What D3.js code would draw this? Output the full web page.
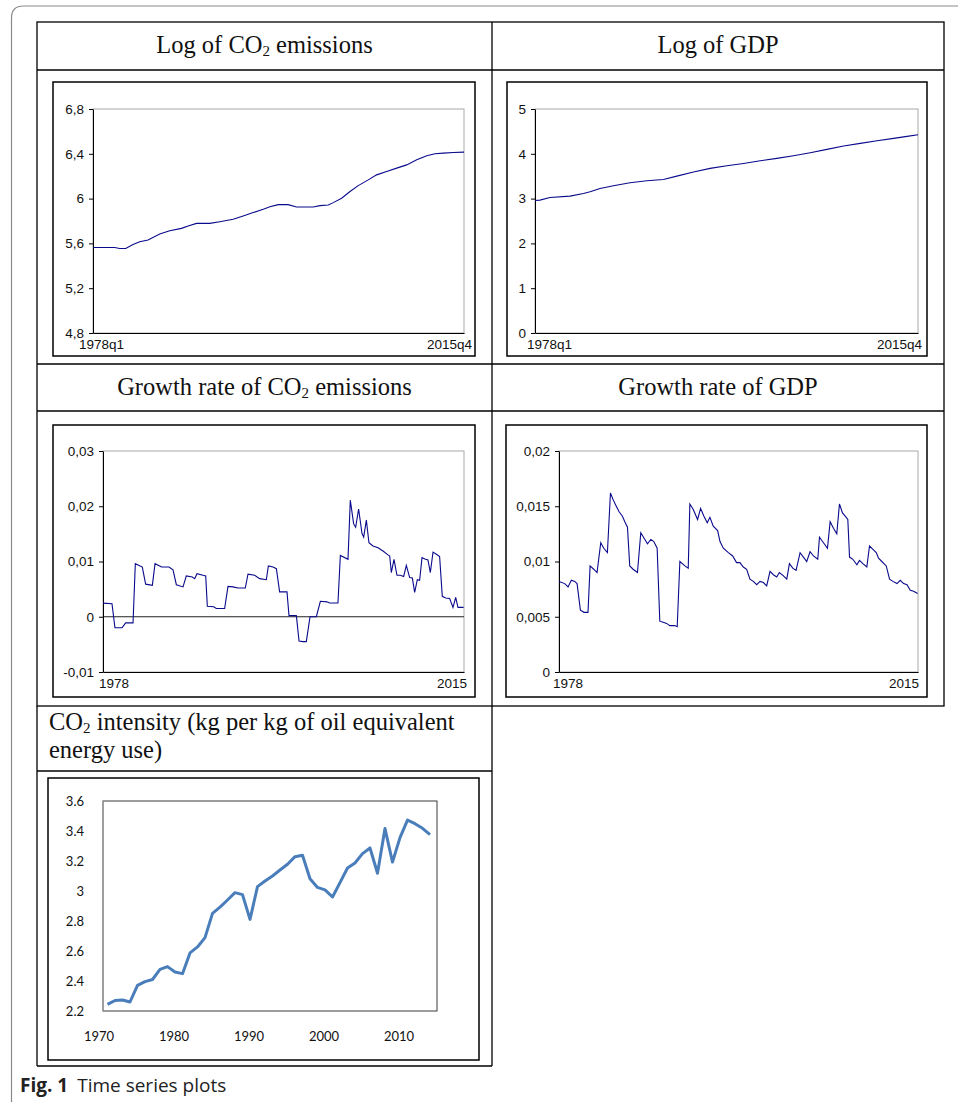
<!DOCTYPE html>
<html>
<head>
<meta charset="utf-8">
<script src="https://cdn.jsdelivr.net/npm/d3@7"></script>
<style>
  body{margin:0;background:#fff;}
  svg{display:block;}
</style>
</head>
<body>
<svg id="fig" width="958" height="1102"></svg>
<script>
// ---- data ----
// log of CO2 emissions (quarterly, 1978q1 - 2015q4), break points
var co2LogT=[1978.0,1980.21,1980.72,1981.33,1982.07,1982.75,1983.6,1984.79,1985.81,1987.0,1987.68,1988.53,1989.88,1990.9,1992.26,1993.28,1994.3,1995.32,1996.0,1996.85,1997.86,1998.71,2000.41,2001.09,2001.94,2002.45,2003.3,2004.15,2004.99,2006.01,2006.86,2007.88,2008.9,2009.92,2010.94,2011.96,2012.8,2013.65,2014.67,2015.75];
var co2LogV=[5.564,5.564,5.555,5.555,5.591,5.615,5.63,5.684,5.713,5.734,5.755,5.779,5.779,5.794,5.815,5.845,5.875,5.904,5.928,5.946,5.946,5.925,5.925,5.937,5.943,5.964,6.003,6.063,6.116,6.167,6.212,6.242,6.272,6.301,6.346,6.382,6.4,6.406,6.412,6.415];

// log of GDP
var gdpLogT=[1978.0,1978.49,1979.48,1981.45,1982.77,1983.43,1984.41,1985.73,1987.37,1989.02,1990.66,1991.98,1993.62,1995.26,1996.91,1998.55,2000.2,2001.84,2003.48,2005.13,2006.77,2008.42,2010.06,2011.71,2013.35,2014.67,2015.75];
var gdpLogV=[2.958,2.966,3.025,3.055,3.115,3.152,3.227,3.286,3.353,3.398,3.428,3.502,3.592,3.674,3.733,3.785,3.845,3.897,3.957,4.024,4.098,4.173,4.232,4.292,4.344,4.389,4.426];

// growth rate of CO2 emissions
var co2GrT=[1978.00,1978.94,1979.25,1979.99,1980.37,1981.14,1981.38,1982.11,1982.46,1983.16,
  1983.44,1984.13,1984.90,1985.32,1985.67,1986.37,1986.71,1987.34,1987.59,1987.83,
  1988.46,1988.74,1988.91,1989.57,1989.85,1990.72,1991.07,1991.59,1992.12,1992.88,
  1993.16,1993.86,1994.38,1995.08,1995.29,1995.78,1996.13,1996.47,1997.24,1997.45,
  1998.22,1998.50,1998.91,1999.26,1999.65,2000.31,2000.73,2001.42,2001.70,2002.57,
  2002.82,2003.62,2003.86,2004.21,2004.42,2004.73,2005.08,2005.26,2005.54,2005.81,
  2006.23,2006.76,2007.28,2007.80,2007.98,2008.15,2008.43,2008.74,2009.09,2009.44,
  2009.72,2010.07,2010.35,2010.59,2010.87,2011.11,2011.36,2011.71,2011.98,2012.23,
  2012.51,2012.86,2013.20,2013.48,2013.83,2014.25,2014.60,2014.88,2015.12,2015.71];
var co2GrV=[0.00247,0.00235,-0.0020,-0.0020,-0.0011,-0.0011,0.0096,0.0090,0.0059,0.0057,
  0.0096,0.0090,0.0090,0.0085,0.0058,0.0054,0.0074,0.0072,0.0069,0.0078,
  0.0075,0.0074,0.0019,0.0018,0.0015,0.0015,0.0055,0.0054,0.0052,0.0052,
  0.0077,0.0075,0.0069,0.0067,0.0092,0.0090,0.0087,0.0045,0.0045,0.0002,
  0.0002,-0.0044,-0.0045,-0.0045,0.0,0.0,0.0028,0.0027,0.0025,0.0025,
  0.0111,0.0104,0.0211,0.0168,0.0162,0.0195,0.0151,0.0144,0.0175,0.0134,
  0.0128,0.0125,0.0119,0.0112,0.0110,0.0080,0.0104,0.0075,0.0075,0.0073,
  0.0093,0.0071,0.0070,0.0044,0.0067,0.0066,0.0107,0.0104,0.0103,0.0080,
  0.0117,0.0113,0.0109,0.0037,0.0034,0.0033,0.0017,0.0035,0.0017,0.0017];

// growth rate of GDP
var gdpGrT=[1978.00,1978.60,1978.95,1979.30,1979.65,1979.90,1980.25,1980.63,1981.05,1981.27,
  1981.65,1982.00,1982.39,1982.71,1983.09,1983.41,1983.69,1983.97,1984.32,1984.67,
  1984.92,1985.20,1985.44,1985.79,1986.25,1986.60,1986.95,1987.30,1987.66,1987.97,
  1988.32,1988.60,1988.96,1989.31,1989.66,1990.18,1990.43,1990.71,1991.24,1991.59,
  1991.76,1992.12,1992.57,1992.89,1993.24,1993.59,1993.87,1994.22,1994.68,1994.93,
  1995.28,1995.81,1996.26,1996.67,1997.03,1997.38,1997.73,1998.08,1998.44,1998.79,
  1999.14,1999.49,1999.84,2000.19,2000.54,2000.89,2001.17,2001.60,2001.95,2002.23,
  2002.58,2002.93,2003.35,2003.70,2004.05,2004.40,2004.76,2005.21,2005.39,2005.81,
  2006.23,2006.51,2006.86,2007.21,2007.49,2007.81,2008.09,2008.37,2008.55,2008.90,
  2009.32,2009.60,2009.95,2010.37,2010.65,2011.01,2011.36,2011.60,2011.95,2012.41,
  2012.76,2013.11,2013.54,2013.88,2014.24,2014.59,2014.94,2015.29,2015.71];
var gdpGrV=[0.0082,0.0080,0.0077,0.0083,0.0082,0.0080,0.0056,0.0054,0.0054,0.0096,
  0.0093,0.0090,0.0117,0.0112,0.0108,0.0162,0.0156,0.0151,0.0145,0.0141,
  0.0136,0.0131,0.0096,0.0093,0.0090,0.0126,0.0121,0.0116,0.0120,0.0118,
  0.0112,0.0046,0.0045,0.0044,0.0042,0.0042,0.0041,0.0100,0.0096,0.0094,
  0.0152,0.0147,0.0138,0.0148,0.0141,0.0135,0.0140,0.0132,0.0128,0.0118,
  0.0112,0.0108,0.0105,0.0099,0.0099,0.0095,0.0093,0.0084,0.0082,0.0079,
  0.0082,0.0081,0.0078,0.0091,0.0088,0.0086,0.0090,0.0087,0.0084,0.0098,
  0.0094,0.0092,0.0108,0.0104,0.0100,0.0109,0.0105,0.0102,0.0122,0.0117,
  0.0112,0.0136,0.0130,0.0125,0.0152,0.0144,0.0141,0.0138,0.0104,0.0102,
  0.0097,0.0101,0.0098,0.0095,0.0114,0.0111,0.0108,0.0103,0.0100,0.0096,
  0.0084,0.0082,0.0080,0.0083,0.0080,0.0079,0.0074,0.0073,0.0071];

// CO2 intensity, annual 1971-2014
var intYears=d3.range(1971,2015);
var intV=[2.244,2.27,2.273,2.26,2.371,2.396,2.41,2.478,2.496,2.46,
  2.449,2.587,2.627,2.689,2.851,2.893,2.94,2.989,2.976,2.811,
  3.029,3.067,3.1,3.14,3.178,3.229,3.238,3.082,3.024,3.007,
  2.96,3.056,3.153,3.187,3.249,3.287,3.118,3.416,3.193,3.356,
  3.473,3.449,3.418,3.376];

// tick values
var co2LogTicks=[4.8,5.2,5.6,6,6.4,6.8];
var gdpLogTicks=[0,1,2,3,4,5];
var co2GrTicks=[-0.01,0,0.01,0.02,0.03];
var gdpGrTicks=[0,0.005,0.01,0.015,0.02];
var intTicks=[2.2,2.4,2.6,2.8,3,3.2,3.4,3.6];
var intYearTicks=[1970,1980,1990,2000,2010];

var svg=d3.select('#fig');
var comma=d3.formatLocale({decimal:',',thousands:'.',grouping:[3],currency:['',''],minus:'-'}).format('~g');

// outer frame of the figure
svg.append('path')
  .attr('d','M11.5,1102 L11.5,18 Q11.5,6 23.5,6 L958,6')
  .attr('fill','none').attr('stroke','#8a8a8a').attr('stroke-width',1.2);

// table grid
var grid=svg.append('g').attr('stroke','#000').attr('stroke-width',1.3).attr('fill','none');
grid.append('rect').attr('x',37).attr('y',22).attr('width',907).attr('height',684);
[70,364,411].forEach(function(y){
  grid.append('line').attr('x1',37).attr('x2',944).attr('y1',y).attr('y2',y);
});
grid.append('line').attr('x1',492).attr('x2',492).attr('y1',22).attr('y2',1066);
grid.append('line').attr('x1',37).attr('x2',37).attr('y1',706).attr('y2',1066);
grid.append('line').attr('x1',37).attr('x2',492).attr('y1',1066).attr('y2',1066);
grid.append('line').attr('x1',37).attr('x2',492).attr('y1',771).attr('y2',771);

// cell titles
function title(x,y,anchor,pre,sub,post){
  var t=svg.append('text').attr('x',x).attr('y',y).attr('text-anchor',anchor)
    .style('font-family','"Liberation Serif","Times New Roman",serif')
    .style('font-size','24.5px').attr('fill','#111');
  t.append('tspan').text(pre);
  if(sub){
    t.append('tspan').attr('dy',3).style('font-size','15px').text(sub);
    t.append('tspan').attr('dy',-3).text(post);
  }
  return t;
}
title(264.5,53,'middle','Log of CO','2',' emissions');
title(718,53,'middle','Log of GDP');
title(264.5,395,'middle','Growth rate of CO','2',' emissions');
title(718,395,'middle','Growth rate of GDP');
title(49,730,'start','CO','2',' intensity (kg per kg of oil equivalent');
title(49,758,'start','energy use)');

// eviews style panel
function eviews(o){
  var g=svg.append('g');
  g.append('rect').attr('x',o.box[0]).attr('y',o.box[1])
    .attr('width',o.box[2]-o.box[0]).attr('height',o.box[3]-o.box[1])
    .attr('fill','none').attr('stroke','#000').attr('stroke-width',1.5);
  var x=d3.scaleLinear().domain([1978,2015.75]).range([o.plot[0],o.plot[2]]);
  var y=d3.scaleLinear().domain(o.domain).range([o.plot[3],o.plot[1]]);
  g.append('rect').attr('x',o.plot[0]).attr('y',o.plot[1])
    .attr('width',o.plot[2]-o.plot[0]).attr('height',o.plot[3]-o.plot[1])
    .attr('fill','none').attr('stroke','#a8a8a8').attr('stroke-width',1);
  if(o.zero){
    g.append('line').attr('x1',o.plot[0]).attr('x2',o.plot[2])
      .attr('y1',y(0)).attr('y2',y(0)).attr('stroke','#222').attr('stroke-width',1);
  }
  var ya=g.append('g').attr('transform','translate('+o.plot[0]+',0)')
    .call(d3.axisLeft(y).tickValues(o.ticks).tickSize(4).tickSizeOuter(0).tickPadding(5).tickFormat(comma));
  ya.select('.domain').attr('stroke','#000');
  ya.selectAll('.tick line').attr('stroke','#000');
  ya.selectAll('text').attr('fill','#111')
    .style('font-family','"Liberation Sans",Arial,sans-serif').style('font-size','13.5px');
  ya.attr('font-family',null).attr('font-size',null);
  g.append('g').attr('transform','translate(0,'+o.plot[3]+')')
    .call(d3.axisBottom(x).tickValues([]).tickSizeOuter(0))
    .select('.domain').attr('stroke','#000');
  var line=d3.line().x(function(d){return x(d[0]);}).y(function(d){return y(d[1]);});
  g.append('path').datum(d3.zip(o.t,o.v)).attr('d',line)
    .attr('fill','none').attr('stroke','#0a0a8c').attr('stroke-width',1.1);
  var lab=g.append('g').attr('fill','#111')
    .style('font-family','"Liberation Sans",Arial,sans-serif').style('font-size','13.5px');
  lab.append('text').attr('x',x(1978)+o.lx[0]).attr('y',o.plot[3]+16).attr('text-anchor','start').text(o.labels[0]);
  lab.append('text').attr('x',x(2015.75)+o.lx[1]).attr('y',o.plot[3]+16).attr('text-anchor','end').text(o.labels[1]);
}

eviews({box:[53,82,475,356],plot:[93,109,464,333],domain:[4.8,6.8],ticks:co2LogTicks,
  t:co2LogT,v:co2LogV,labels:['1978q1','2015q4'],lx:[-14,8]});
eviews({box:[507,82,927,356],plot:[535,109,918,333],domain:[0,5],ticks:gdpLogTicks,
  t:gdpLogT,v:gdpLogV,labels:['1978q1','2015q4'],lx:[-8,4]});
eviews({box:[53,425,475,697],plot:[103,451,464,672],domain:[-0.01,0.03],ticks:co2GrTicks,
  t:co2GrT,v:co2GrV,labels:['1978','2015'],lx:[-4,3],zero:true});
eviews({box:[506,425,927,697],plot:[559,451,918,672],domain:[0,0.02],ticks:gdpGrTicks,
  t:gdpGrT,v:gdpGrV,labels:['1978','2015'],lx:[-6,1]});

// excel style panel: CO2 intensity
(function(){
  var box=[48,778,479,1060], plot=[103,801,437,1011];
  var g=svg.append('g');
  g.append('rect').attr('x',box[0]).attr('y',box[1]).attr('width',box[2]-box[0]).attr('height',box[3]-box[1])
    .attr('fill','none').attr('stroke','#000').attr('stroke-width',1.5);
  var x=d3.scaleLinear().domain([1970,2014]).range([100,430]);
  var y=d3.scaleLinear().domain([2.2,3.6]).range([plot[3],plot[1]]);
  g.append('rect').attr('x',plot[0]).attr('y',plot[1]).attr('width',plot[2]-plot[0]).attr('height',plot[3]-plot[1])
    .attr('fill','none').attr('stroke','#3a3a3a').attr('stroke-width',1);
  g.append('line').attr('x1',plot[0]).attr('x2',plot[0]).attr('y1',plot[1]).attr('y2',plot[3])
    .attr('stroke','#a0a0a0').attr('stroke-width',1.2);
  var font='Lato,"Open Sans",sans-serif';
  g.append('g').selectAll('text').data(intTicks).join('text')
    .attr('x',plot[0]-19).attr('y',function(d){return y(d);}).attr('dy','0.35em')
    .attr('text-anchor','end').attr('fill','#111')
    .style('font-family',font).style('font-size','13px')
    .text(d3.format('~g'));
  g.append('g').selectAll('text').data(intYearTicks).join('text')
    .attr('x',function(d){return x(d)-1;}).attr('y',1041).attr('text-anchor','middle').attr('fill','#111')
    .style('font-family',font).style('font-size','13px')
    .text(function(d){return d;});
  var line=d3.line().x(function(d){return x(d[0]);}).y(function(d){return y(d[1]);});
  g.append('path').datum(d3.zip(intYears,intV)).attr('d',line)
    .attr('fill','none').attr('stroke','#4a7ebb').attr('stroke-width',3).attr('stroke-linejoin','round');
})();

// caption
var cap=svg.append('text').attr('x',20).attr('y',1092)
  .style('font-family','"Open Sans","Noto Sans",sans-serif').style('font-size','19px').attr('fill','#222');
cap.append('tspan').style('font-weight','bold').text('Fig. 1');
cap.append('tspan').attr('dx',9).text('Time series plots');
</script>
</body>
</html>
